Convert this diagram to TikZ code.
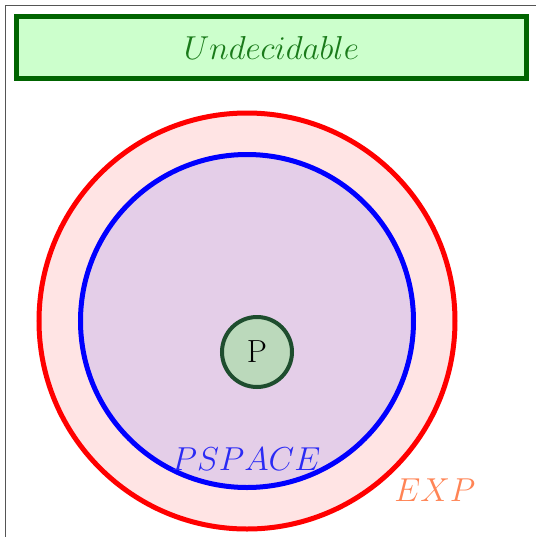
\documentclass[tikz,border=0pt]{standalone}
\usepackage{xcolor}
\usepackage{tikz}
\usetikzlibrary{positioning,shapes.geometric}
\definecolor{cplxframe}{HTML}{555555}
\definecolor{undecline}{HTML}{006400}
\definecolor{undecfill}{HTML}{CCFFCC}
\definecolor{undectext}{HTML}{1A7A1A}
\definecolor{expfill}{HTML}{FFE4E4}
\definecolor{pspacefill}{HTML}{E4CEE8}
\definecolor{pfill}{HTML}{BBD9BB}
\definecolor{pline}{HTML}{1E4D2E}
\definecolor{exptext}{HTML}{FF8455}
\definecolor{pspacetext}{HTML}{2A2AF5}
\tikzset{%
  cplxclass/.style={%
    circle,
    inner sep=0pt,
    line width=3.75pt
  },
  cplxlabel/.style={%
    inner sep=0pt,
    font=\fontsize{24}{28}\selectfont
  }
}
\begin{document}
\begin{tikzpicture}[x=0.75pt,y=-0.75pt]
    \useasboundingbox (0,0) rectangle (536,537);
    \draw[cplxframe,line width=0.75pt] (5.5,537) -- (5.5,5.5) -- (536,5.5);

    \node[draw=undecline,fill=undecfill,line width=3.75pt,minimum width=510*0.75pt,minimum height=62*0.75pt,inner sep=0pt] (undec) at (271.5,47.5) {};
    \node[cplxlabel,text=undectext] at (undec) {$Undecidable$};

    \node[cplxclass,draw=red,fill=expfill,minimum size=416*0.75pt] (exp) at (247,321) {};
    \node[cplxclass,draw=blue,fill=pspacefill,minimum size=333*0.75pt] (pspace) at (247,321) {};
    \node[cplxclass,draw=pline,fill=pfill,line width=3pt,minimum size=70*0.75pt] (pnode) at (257,352) {};
    \node[cplxlabel] at (pnode) {P};

    \node[cplxlabel,text=pspacetext] (pspacelbl) at (246,459) {$PSPACE$};
    \node[cplxlabel,text=exptext] (explbl) at (435,490) {$EXP$};
  \end{tikzpicture}
\end{document}
